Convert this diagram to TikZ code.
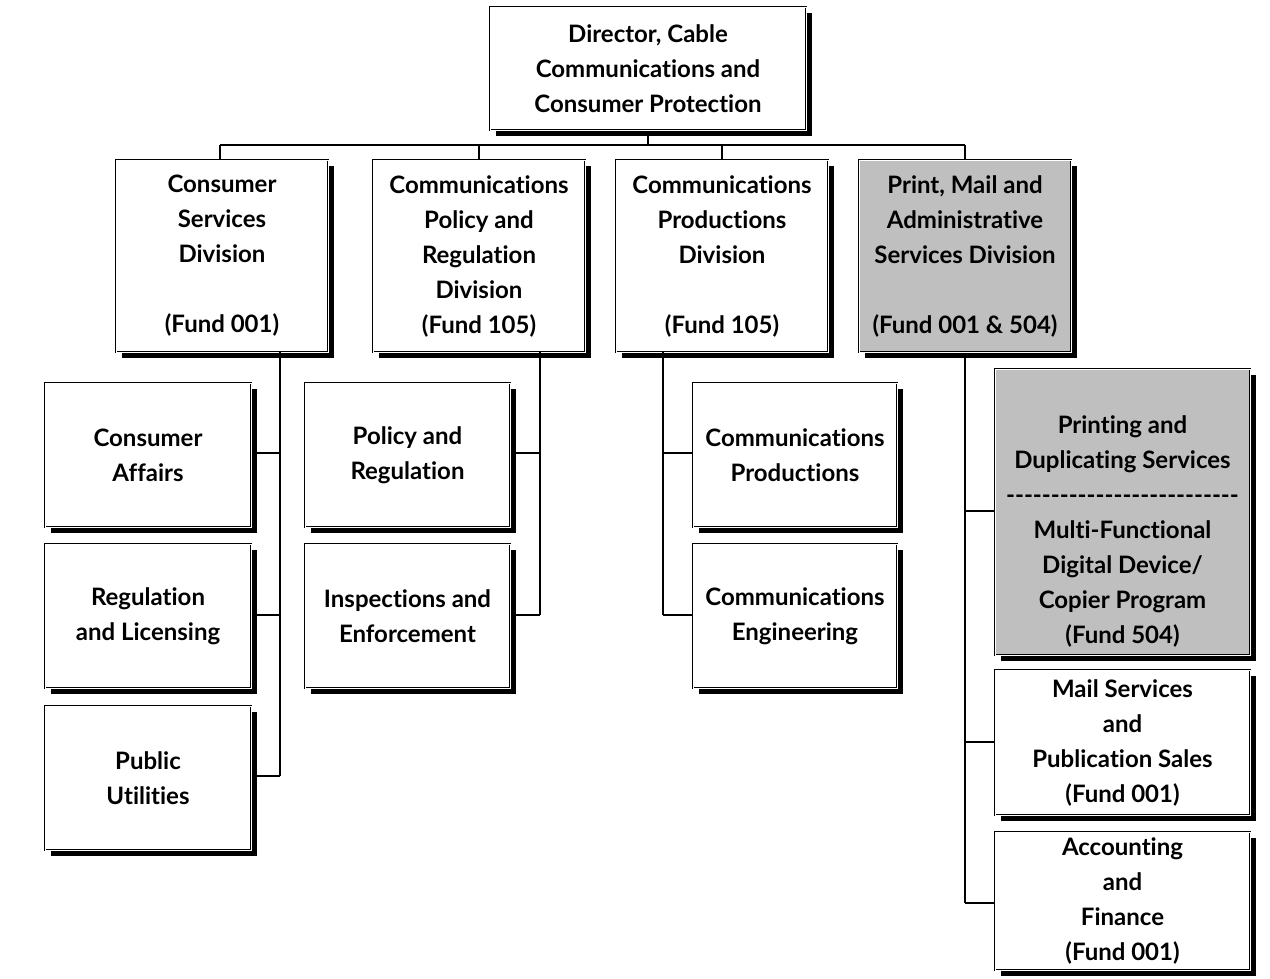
\documentclass[tikz,border=0pt]{standalone}
\usepackage{fontspec}
\setmainfont{Lato}[BoldFont={Lato Bold}, Ligatures={NoCommon}]
\usetikzlibrary{shadows}
\begin{document}
\begin{tikzpicture}[x=1pt,y=-1pt,
  orgbox/.style={draw=black, line width=1.1pt, double=white, double distance=0.7pt,
    fill=white, inner sep=0pt, align=center,
    font=\fontsize{24}{35}\selectfont\bfseries,
    drop shadow={shadow xshift=6pt, shadow yshift=-6pt, fill=black, opacity=1}},
  graybox/.style={orgbox, fill=gray!50},
  link/.style={draw=black, line width=1.1pt}]
\useasboundingbox (0,0) rectangle (1270,979);
\newcommand\obox[6]{%
  \node[#6, minimum width={#4-#2}, minimum height={#5-#3}] (#1) at ({(#2+#4)/2},{(#3+#5)/2})}
% top
\obox{dir}{490}{7}{806}{130}{orgbox} {Director, Cable\\Communications and\\Consumer Protection};
% divisions
\obox{csd}{116}{160}{328}{352}{orgbox} {Consumer\\Services\\Division\\ \\(Fund 001)};
\obox{cpr}{373}{160}{585}{352}{orgbox} {Communications\\Policy and\\Regulation\\Division\\(Fund 105)};
\obox{cpd}{616}{160}{828}{352}{orgbox} {Communications\\Productions\\Division\\ \\(Fund 105)};
\obox{pma}{859}{160}{1071}{352}{graybox} {Print, Mail and\\Administrative\\Services Division\\ \\(Fund 001 \& 504)};
% consumer column
\obox{ca}{45}{383}{251}{527}{orgbox} {Consumer\\Affairs};
\obox{rl}{45}{544}{251}{688}{orgbox} {Regulation\\and Licensing};
\obox{pu}{45}{706}{251}{850}{orgbox} {Public\\Utilities};
% policy column
\obox{pr}{305}{383}{510}{527}{orgbox} {Policy and\\Regulation};
\obox{ie}{305}{544}{510}{688}{orgbox} {Inspections and\\Enforcement};
% productions column
\obox{cp}{693}{383}{897}{527}{orgbox} {Communications\\Productions};
\obox{ce}{693}{544}{897}{688}{orgbox} {Communications\\Engineering};
% print column
\obox{pd}{995}{369}{1250}{655}{graybox} { \\[22pt]Printing and\\Duplicating Services\\\hbox to 234pt{\cleaders\hbox{-}\hfill}\\Multi-Functional\\Digital Device/\\Copier Program\\(Fund 504)};
\obox{ms}{995}{670}{1250}{815}{orgbox} {Mail Services\\and\\Publication Sales\\(Fund 001)};
\obox{af}{995}{832}{1250}{970}{orgbox} {Accounting\\and\\Finance\\(Fund 001)};
% bus
\coordinate (bus) at (648,145);
\coordinate (busL) at (220,145);
\coordinate (busR) at (965,145);
\draw[link] (dir.south) -- (bus);
\draw[link] (busL) -- (busR);
\draw[link] (busL) -- (busL |- csd.north);
\draw[link] (479,145) -- (cpr.north);
\draw[link] (722,145) -- (cpd.north);
\draw[link] (busR) -- (pma.north);
% consumer column links
\coordinate (c1) at (280,352);
\draw[link] (c1) -- (280,776);
\draw[link] (ca.east |- 0,453) -- (280,453);
\draw[link] (rl.east |- 0,615) -- (280,615);
\draw[link] (pu.east |- 0,776) -- (280,776);
% policy column links
\coordinate (c2) at (540,352);
\draw[link] (c2) -- (540,615);
\draw[link] (pr.east |- 0,453) -- (540,453);
\draw[link] (ie.east |- 0,615) -- (540,615);
% productions column links
\coordinate (c3) at (663,352);
\draw[link] (c3) -- (663,615);
\draw[link] (cp.west |- 0,453) -- (663,453);
\draw[link] (ce.west |- 0,615) -- (663,615);
% print column links
\draw[link] (pma.south) -- (965,903);
\draw[link] (pd.west |- 0,511) -- (965,511);
\draw[link] (ms.west |- 0,742) -- (965,742);
\draw[link] (af.west |- 0,903) -- (965,903);
\end{tikzpicture}
\end{document}
